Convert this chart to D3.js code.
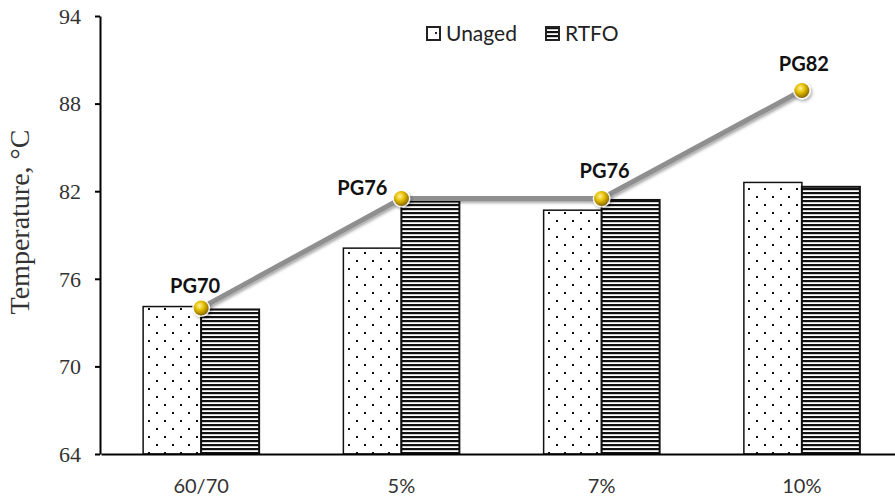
<!DOCTYPE html>
<html><head><meta charset="utf-8">
<script src="https://cdn.jsdelivr.net/npm/d3@7"></script>
<style>body{margin:0;background:#fff}</style>
</head><body>
<svg id="chart" width="895" height="499"></svg>
<script>
const categories = ["60/70", "5%", "7%", "10%"];
const unaged = [74.1, 78.1, 80.7, 82.6];
const rtfo = [73.9, 81.3, 81.4, 82.3];
const pgValues = [74.0, 81.5, 81.5, 88.9];
const pgLabels = ["PG70", "PG76", "PG76", "PG82"];
const yTicks = [64, 70, 76, 82, 88, 94];
const seriesNames = ["Unaged", "RTFO"];

// label placement (style, not data)
const labelDx = [-6, -39, 3, 2];
const labelDy = [-15, -4, -21, -19];

const svg = d3.select("#chart");
const defs = svg.append("defs");

const pd = defs.append("pattern").attr("id","dots").attr("patternUnits","userSpaceOnUse")
  .attr("width",16).attr("height",16);
pd.append("rect").attr("width",16).attr("height",16).attr("fill","#fff");
[[4,4],[12,12]].forEach(([x,y])=>pd.append("rect").attr("x",x).attr("y",y).attr("width",2).attr("height",2).attr("fill","#111"));
const pl = defs.append("pattern").attr("id","hlines").attr("patternUnits","userSpaceOnUse")
  .attr("width",10).attr("height",4);
pl.append("rect").attr("width",10).attr("height",4).attr("fill","#fff");
pl.append("rect").attr("y",0).attr("width",10).attr("height",2.2).attr("fill","#111");

const grad = defs.append("radialGradient").attr("id","ball").attr("cx","40%").attr("cy","35%").attr("r","65%");
grad.append("stop").attr("offset","0%").attr("stop-color","#fff3a0");
grad.append("stop").attr("offset","45%").attr("stop-color","#e8c000");
grad.append("stop").attr("offset","100%").attr("stop-color","#8a6a00");
const sh = defs.append("filter").attr("id","shadow").attr("x","-20%").attr("y","-50%").attr("width","140%").attr("height","200%");
sh.append("feDropShadow").attr("dx",1.5).attr("dy",2).attr("stdDeviation",1.5).attr("flood-color","#000").attr("flood-opacity",0.35);

const x = d3.scaleBand().domain(categories).range([101, 902]).padding(0);
const y = d3.scaleLinear().domain([64, 94]).range([454, 16]);
const barW = 58;
const cx = c => x(c) + x.bandwidth()/2;

const g = svg.append("g");
categories.forEach((c,i)=>{
  g.append("rect").attr("x",cx(c)-barW).attr("y",y(unaged[i])).attr("width",barW)
    .attr("height",y(64)-y(unaged[i])).attr("fill","url(#dots)").attr("stroke","#111").attr("stroke-width",1.5);
  g.append("rect").attr("x",cx(c)).attr("y",y(rtfo[i])).attr("width",barW)
    .attr("height",y(64)-y(rtfo[i])).attr("fill","url(#hlines)").attr("stroke","#111").attr("stroke-width",2);
});

const yAxis = svg.append("g").attr("transform","translate(100,0)")
  .call(d3.axisLeft(y).tickValues(yTicks).tickSize(5).tickSizeOuter(0));
yAxis.select(".domain").attr("stroke","#000").attr("stroke-width",2);
yAxis.selectAll(".tick line").attr("stroke","#000").attr("stroke-width",2);
yAxis.selectAll(".tick text").attr("font-family","'Liberation Serif','Times New Roman',serif")
  .attr("font-size",22).attr("fill","#333").attr("x",-19).attr("dy","0.33em");

const xAxis = svg.append("g").attr("transform","translate(0,454)")
  .call(d3.axisBottom(x).tickSize(0).tickSizeOuter(0));
xAxis.select(".domain").attr("stroke","#000").attr("stroke-width",2);
xAxis.selectAll(".tick text").attr("font-family","Lato,'Open Sans',sans-serif")
  .attr("font-size",20).attr("fill","#333").attr("dy",0).attr("y",39);

svg.append("text").attr("transform","translate(29,222) rotate(-90)").attr("text-anchor","middle")
  .attr("font-family","'Liberation Serif','Times New Roman',serif").attr("font-size",28).attr("fill","#333")
  .text("Temperature, °C");

const line = d3.line().x((d,i)=>cx(categories[i])).y(d=>y(d));
svg.append("path").datum(pgValues).attr("d",line).attr("fill","none")
  .attr("stroke","#8f8f8f").attr("stroke-width",5).attr("filter","url(#shadow)");
const pts = svg.append("g");
pgValues.forEach((v,i)=>{
  pts.append("circle").attr("cx",cx(categories[i])).attr("cy",y(v)).attr("r",9).attr("fill","#fff").attr("opacity",0.85).attr("filter","url(#shadow)");
  pts.append("circle").attr("cx",cx(categories[i])).attr("cy",y(v)).attr("r",7.5).attr("fill","url(#ball)");
  svg.append("text").attr("x",cx(categories[i]) + labelDx[i]).attr("y",y(v) + labelDy[i])
    .attr("text-anchor","middle").attr("font-family","Lato,'Open Sans',sans-serif").attr("font-weight","bold")
    .attr("font-size",20).attr("fill","#111").text(pgLabels[i]);
});

const lg = svg.append("g").attr("transform","translate(427,27)");
const lgX = [0, 119];
seriesNames.forEach((n,i)=>{
  lg.append("rect").attr("x",lgX[i]).attr("y",0).attr("width",13).attr("height",13)
    .attr("fill", i===0?"#fff":"url(#hlines)").attr("stroke","#222").attr("stroke-width",2);
  if(i===0) lg.append("rect").attr("x",lgX[i]+8).attr("y",5).attr("width",2).attr("height",2).attr("fill","#222");
  lg.append("text").attr("x",lgX[i]+19).attr("y",14).attr("font-family","Lato,'Open Sans',sans-serif")
    .attr("font-size",21).attr("fill","#222").text(n);
});
</script>
</body></html>
